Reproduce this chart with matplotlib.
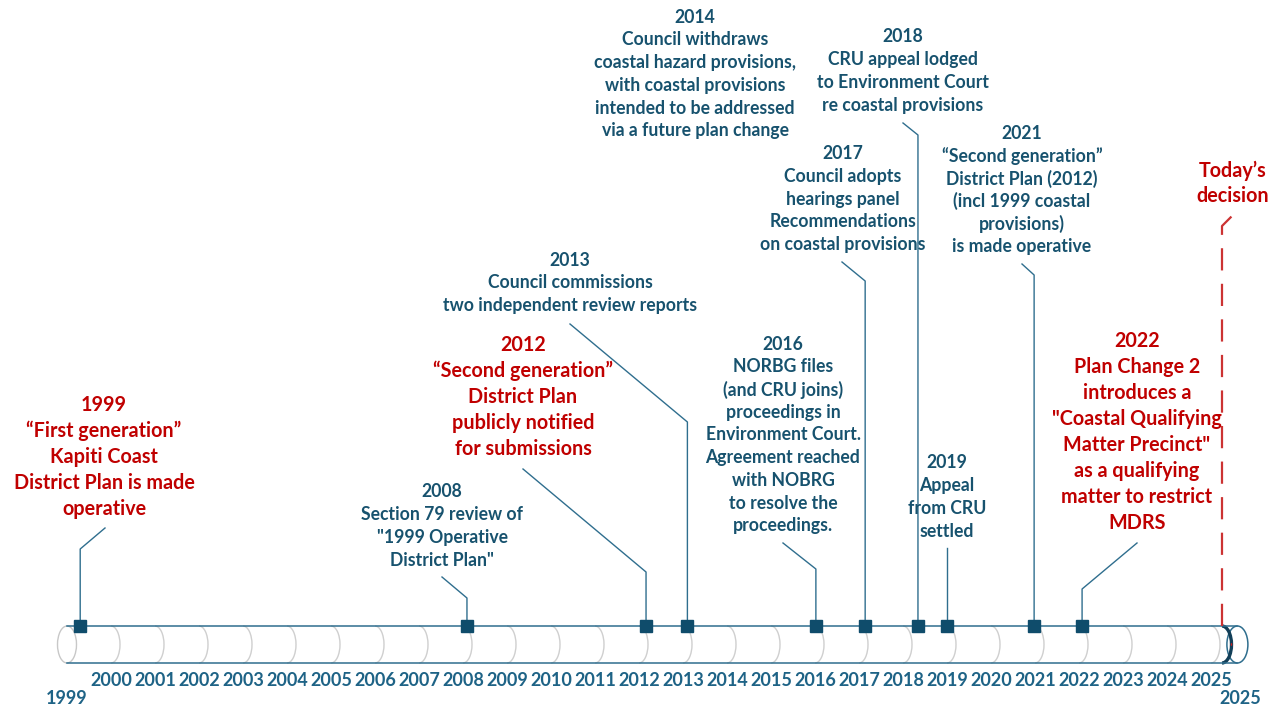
import matplotlib.pyplot as plt
from matplotlib.patches import Ellipse, Arc

plt.rcParams['font.family'] = ['Lato', 'DejaVu Sans']

# timeline events (marker position in fractional years)
event_names = ["1999", "2008", "2012", "2013", "2014", "2016", "2017", "2018", "2019", "2021", "2022"]
event_pos = [1999.3, 2008.09, 2012.16, 2013.1, None, 2016.02, 2017.14, 2018.34, 2019.0, 2020.98, 2022.07]
event_key = [True, False, True, False, False, False, False, False, False, False, True]
event_text = [
    ["1999", "\u201cFirst generation\u201d", "Kapiti Coast", "District Plan is made", "operative"],
    ["2008", "Section 79 review of", "\"1999 Operative", "District Plan\""],
    ["2012", "\u201cSecond generation\u201d", "District Plan", "publicly notified", "for submissions"],
    ["2013", "Council commissions", "two independent review reports"],
    ["2014", "Council withdraws", "coastal hazard provisions,", "with coastal provisions",
     "intended to be addressed", "via a future plan change"],
    ["2016", "NORBG files", "(and CRU joins)", "proceedings in", "Environment Court.",
     "Agreement reached", "with NOBRG", "to resolve the", "proceedings."],
    ["2017", "Council adopts", "hearings panel", "Recommendations", "on coastal provisions"],
    ["2018", "CRU appeal lodged", "to Environment Court", "re coastal provisions"],
    ["2019", "Appeal", "from CRU", "settled"],
    ["2021", "\u201cSecond generation\u201d", "District Plan (2012)", "(incl 1999 coastal",
     "provisions)", "is made operative"],
    ["2022", "Plan Change 2", "introduces a", "\"Coastal Qualifying", "Matter Precinct\"",
     "as a qualifying", "matter to restrict", "MDRS"],
]
axis_years = list(range(2000, 2026))
today_pos = 2025.25
today_text = ["Today\u2019s", "decision"]

# layout in pixels: label centre (x, y), elbow height, end of the leader line
label_xy = [(104, 457), (442, 526), (523, 397), (570, 283), (695, 74), (783, 435),
            (843, 199), (903, 71), (947, 497), (1022, 190), (1137, 432)]
elbow_y = [549, 598, 572, 422, None, 569, 281, 135, 548, 275, 589]
leader_end = [(105, 528), (442, 577), (523, 469), (570, 324), None, (783, 543),
              (842, 262), (903, 123), None, (1022, 264), (1137, 543)]

BLUE = "#17526e"
RED = "#c00000"
AXIS_BLUE = "#1e6386"
LINE = "#2f6e8e"
X0, PX = 67, 44.0   # pixel of 1999 and pixels per year


def yr(p):
    return 1999 + (p - X0) / PX


fig = plt.figure(figsize=(12.8, 7.06), dpi=100)
ax = fig.add_axes([0, 0, 1, 1])
ax.set_xlim(yr(0), yr(1280))
ax.set_ylim(706, 0)
ax.axis("off")

# cylinder
top, bot = 626, 663
mid = (top + bot) / 2
end_x = 2025.6
ax.add_patch(Ellipse((1999, mid), 19 / PX, bot - top, fill=False, ec="#c8c8c8", lw=1))
for y in axis_years:
    ax.add_patch(Arc((y, mid), 18 / PX, bot - top, theta1=-90, theta2=90, ec="#cfcfcf", lw=1))
ax.add_patch(Ellipse((end_x, mid), 21 / PX, bot - top, fill=False, ec=LINE, lw=1.1))
ax.plot([1999, end_x], [top, top], color=LINE, lw=1.1)
ax.plot([1999, end_x], [bot, bot], color=LINE, lw=1.1)
ax.add_patch(Arc((today_pos, mid), 19 / PX, bot - top, theta1=-90, theta2=90, ec="#123f58", lw=2.4))
ax.add_patch(Arc((today_pos, mid), 19 / PX, bot - top, theta1=-80, theta2=80, ec="#d62020", lw=1))

for y in axis_years:
    ax.text(y, 681, str(y), ha="center", va="center", fontsize=13, fontweight="bold", color=AXIS_BLUE)
ax.text(1999, 699, "1999", ha="center", va="center", fontsize=13, fontweight="bold", color=AXIS_BLUE)
ax.text(yr(1240), 699, "2025", ha="center", va="center", fontsize=13, fontweight="bold", color=AXIS_BLUE)

# today's decision
ax.plot([today_pos, today_pos, yr(1233)], [top, 226, 215], color="#cc3333", lw=1.6, dashes=(10, 6))
for i, line in enumerate(today_text):
    ax.text(yr(1233), 171 + i * 25, line, ha="center", va="center", fontsize=14.2,
            fontweight="bold", color=RED)

# events
for pos, key, lines, (lx, ly), ey, le in zip(event_pos, event_key, event_text,
                                              label_xy, elbow_y, leader_end):
    step = 26 if key else 22.7
    size = 14.2 if key else 12.7
    n = len(lines)
    for i, line in enumerate(lines):
        ax.text(yr(lx), ly + (i - (n - 1) / 2) * step, line, ha="center", va="center",
                fontsize=size, fontweight="bold", color=RED if key else BLUE)
    if pos is None:
        continue
    xs, ys = [pos, pos], [top, ey]
    if le is not None:
        xs.append(yr(le[0]))
        ys.append(le[1])
    ax.plot(xs, ys, color=LINE, lw=1)

ax.plot([p for p in event_pos if p is not None], [top] * 10, "s", ms=9.2,
        color="#0f4c6b", mec="#0f4c6b", zorder=5)

fig.savefig("out.png", dpi=100)
